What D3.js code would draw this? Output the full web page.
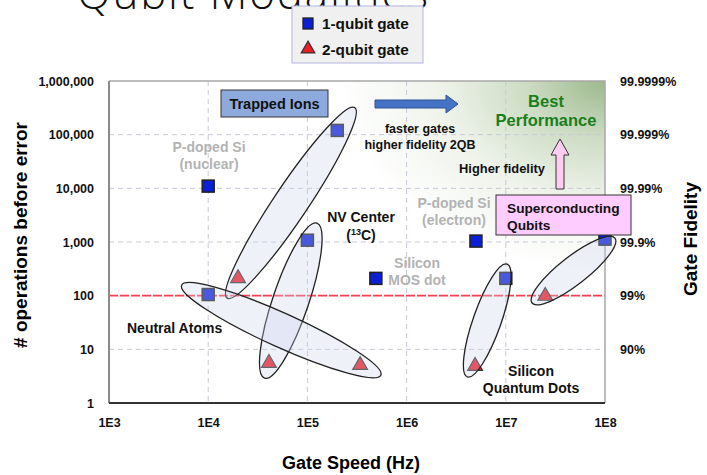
<!DOCTYPE html>
<html>
<head>
<meta charset="utf-8">
<script src="https://cdn.jsdelivr.net/npm/d3@7"></script>
<style>
  body { margin: 0; background: #fff; }
  text { font-family: "Liberation Sans", Arial, sans-serif; }
</style>
</head>
<body>
<div id="chart"></div>
<script>
// values
const xTicks = [1e3, 1e4, 1e5, 1e6, 1e7, 1e8]
const xTickLabels = ['1E3', '1E4', '1E5', '1E6', '1E7', '1E8']
const yTicks = [1, 10, 100, 1000, 10000, 100000, 1000000]
const fidTicks = [10, 100, 1000, 10000, 100000, 1000000]
const fidLabels = ['90%', '99%', '99.9%', '99.99%', '99.999%', '99.9999%']

// 1-qubit gates: speed (Hz), ops before error
const oneQubitSpeed = [1e4, 2e5, 1e5, 1e4, 4.9e5, 5e6, 1e7, 1e8]
const oneQubitOps = [11000, 120000, 1080, 105, 210, 1040, 210, 1130]
// 2-qubit gates
const twoQubitSpeed = [2e4, 4.1e4, 3.4e5, 4.9e6, 2.5e7]
const twoQubitOps = [220, 5.8, 5.3, 5.1, 103]

// ellipse groupings: two tips (speed, ops) and half width in px
const groupNames = ['Trapped Ions', 'NV Center', 'Neutral Atoms', 'Silicon QD', 'Superconducting']
const groupTipA = [[1.55e4, 90], [3.7e4, 2.9], [5.4e3, 157], [4.1e6, 3.05], [1.84e7, 73]]
const groupTipB = [[3.0e5, 320000], [1.25e5, 2240], [5.5e5, 3.3], [1.03e7, 387], [1.26e8, 1180]]
const groupHalfWidth = [17, 18, 17, 14, 14]

const width = 707
const height = 475
const pLeft = 109, pRight = 605, pTop = 81, pBottom = 403

const x = d3.scaleLog().domain([1e3, 1e8]).range([pLeft, pRight])
const y = d3.scaleLog().domain([1, 1e6]).range([pBottom, pTop])

const svg = d3.select('#chart').append('svg')
    .attr('width', width)
    .attr('height', height)

// green "best performance" corner
const defs = svg.append('defs')
const grad = defs.append('radialGradient')
    .attr('id', 'best')
    .attr('gradientUnits', 'userSpaceOnUse')
    .attr('cx', 0).attr('cy', 0).attr('r', 265)
    .attr('gradientTransform', `translate(${pRight},${pTop}) scale(1,0.72)`)
grad.append('stop').attr('offset', 0).attr('stop-color', '#9cb98b')
grad.append('stop').attr('offset', 0.3).attr('stop-color', '#cddcc4')
grad.append('stop').attr('offset', 0.62).attr('stop-color', '#eef3ea')
grad.append('stop').attr('offset', 1).attr('stop-color', '#ffffff')

// title, cut off at the top
svg.append('text')
    .attr('x', 77).attr('y', 9)
    .attr('textLength', 351)
    .style('font-family', '"Open Sans", sans-serif')
    .style('font-weight', 300)
    .attr('font-size', 44)
    .attr('fill', '#111')
    .text('Qubit Modalities')

// plot background
svg.append('rect')
    .attr('x', pLeft).attr('y', pTop)
    .attr('width', pRight - pLeft).attr('height', pBottom - pTop)
    .attr('fill', 'url(#best)')

// grid
const grid = svg.append('g')
    .attr('stroke', '#c8c8d8')
    .attr('stroke-dasharray', '5,4')
grid.selectAll('.gx').data(xTicks.slice(1, -1)).join('line')
    .attr('class', 'gx')
    .attr('x1', d => x(d)).attr('x2', d => x(d))
    .attr('y1', pTop).attr('y2', pBottom)
grid.selectAll('.gy').data(yTicks.slice(1, -1).filter(d => d != 100)).join('line')
    .attr('class', 'gy')
    .attr('x1', pLeft).attr('x2', pRight)
    .attr('y1', d => y(d)).attr('y2', d => y(d))

// 99% line
svg.append('line')
    .attr('x1', pLeft).attr('x2', pRight)
    .attr('y1', y(100)).attr('y2', y(100))
    .attr('stroke', '#ff3d4f')
    .attr('stroke-width', 1.6)
    .attr('stroke-dasharray', '9,2')

// frame
svg.append('path')
    .attr('d', `M${pLeft},${pTop}H${pRight}V${pBottom}`)
    .attr('fill', 'none').attr('stroke', '#a8a8a8').attr('stroke-width', 1.5)
svg.append('line')
    .attr('x1', pLeft).attr('x2', pLeft).attr('y1', pTop).attr('y2', pBottom)
    .attr('stroke', '#8a8a8a').attr('stroke-width', 2)
svg.append('line')
    .attr('x1', pLeft).attr('x2', pRight).attr('y1', pBottom).attr('y2', pBottom)
    .attr('stroke', '#333').attr('stroke-width', 2)

// axes
const axisLeft = svg.append('g')
    .attr('transform', `translate(${pLeft},0)`)
    .call(d3.axisLeft(y).tickValues(yTicks).tickFormat(d3.format(',')).tickSize(0).tickPadding(15))
const axisRight = svg.append('g')
    .attr('transform', `translate(${pRight},0)`)
    .call(d3.axisRight(y).tickValues(fidTicks).tickFormat((d, i) => fidLabels[i]).tickSize(0).tickPadding(15))
const axisBottom = svg.append('g')
    .attr('transform', `translate(0,${pBottom})`)
    .call(d3.axisBottom(x).tickValues(xTicks).tickFormat((d, i) => xTickLabels[i]).tickSize(0).tickPadding(15))
for (const a of [axisLeft, axisRight, axisBottom]) {
    a.select('.domain').remove()
    a.selectAll('text')
        .attr('font-size', 12.5)
        .attr('font-weight', 'bold')
        .attr('fill', '#111')
        .style('font-family', '"Liberation Sans", Arial, sans-serif')
}

// axis titles
svg.append('text')
    .attr('x', 351).attr('y', 469)
    .attr('text-anchor', 'middle')
    .attr('font-size', 18).attr('font-weight', 'bold')
    .text('Gate Speed (Hz)')
svg.append('text')
    .attr('transform', 'translate(27,235) rotate(-90)')
    .attr('text-anchor', 'middle')
    .attr('font-size', 19).attr('font-weight', 'bold')
    .text('# operations before error')
svg.append('text')
    .attr('transform', 'translate(697,239) rotate(-90)')
    .attr('text-anchor', 'middle')
    .attr('font-size', 19).attr('font-weight', 'bold')
    .text('Gate Fidelity')

// markers
const squares = svg.append('g')
squares.selectAll('rect')
    .data(oneQubitSpeed.map((s, i) => ({speed: s, ops: oneQubitOps[i]})))
    .join('rect')
    .attr('x', d => x(d.speed) - 6).attr('y', d => y(d.ops) - 6)
    .attr('width', 12).attr('height', 12)
    .attr('fill', '#0a1fd6')
    .attr('stroke', '#222').attr('stroke-width', 1.5)

const tri = d3.symbol().type(d3.symbolTriangle).size(95)
svg.append('g').selectAll('path')
    .data(twoQubitSpeed.map((s, i) => ({speed: s, ops: twoQubitOps[i]})))
    .join('path')
    .attr('d', tri)
    .attr('transform', d => `translate(${x(d.speed)},${y(d.ops) + 1})`)
    .attr('fill', '#ee1c25')
    .attr('stroke', '#333').attr('stroke-width', 1.2)

// group ellipses drawn over the points
svg.append('g').selectAll('ellipse')
    .data(groupNames.map((n, i) => {
        const ax = x(groupTipA[i][0]), ay = y(groupTipA[i][1])
        const bx = x(groupTipB[i][0]), by = y(groupTipB[i][1])
        return {
            cx: (ax + bx) / 2, cy: (ay + by) / 2,
            rx: Math.hypot(bx - ax, by - ay) / 2,
            ry: groupHalfWidth[i],
            angle: Math.atan2(by - ay, bx - ax) * 180 / Math.PI
        }
    }))
    .join('ellipse')
    .attr('transform', d => `translate(${d.cx},${d.cy}) rotate(${d.angle})`)
    .attr('rx', d => d.rx).attr('ry', d => d.ry)
    .attr('fill', '#ccd4ec').attr('fill-opacity', 0.32)
    .attr('stroke', '#222').attr('stroke-width', 1.3)

// labels
function label(lines, px, py, opts) {
    const t = svg.append('text')
        .attr('text-anchor', opts.anchor || 'middle')
        .attr('font-size', opts.size || 14)
        .attr('font-weight', 'bold')
        .attr('fill', opts.color || '#111')
    lines.forEach((l, i) => {
        t.append('tspan').attr('x', px).attr('y', py + i * (opts.lh || 17)).text(l)
    })
    return t
}

label(['P-doped Si', '(nuclear)'], 209, 152, {color: '#b3b3b3', size: 14})
label(['P-doped Si', '(electron)'], 454, 208, {color: '#b3b3b3', size: 14})
label(['Silicon', 'MOS dot'], 417, 268, {color: '#b3b3b3', size: 14})
label(['Neutral Atoms'], 127, 333, {anchor: 'start'})
label(['Silicon', 'Quantum Dots'], 531, 376, {})
label(['NV Center'], 361, 222, {})
const nv2 = svg.append('text')
    .attr('x', 361).attr('y', 240)
    .attr('text-anchor', 'middle')
    .attr('font-size', 14).attr('font-weight', 'bold').attr('fill', '#111')
nv2.append('tspan').text('(')
nv2.append('tspan').attr('font-size', 9).attr('dy', -5).text('13')
nv2.append('tspan').attr('dy', 5).text('C)')

// trapped ions box
svg.append('rect')
    .attr('x', 221).attr('y', 90).attr('width', 107).attr('height', 27)
    .attr('fill', '#8eaadc').attr('stroke', '#333').attr('stroke-width', 1)
label(['Trapped Ions'], 274.5, 109, {size: 14.5})

// blue arrow
svg.append('path')
    .attr('d', 'M375,100H446V95L458,104L446,113V108H375Z')
    .attr('fill', '#4472c4').attr('stroke', '#2f528f').attr('stroke-width', 1)
label(['faster gates', 'higher fidelity 2QB'], 420, 133, {size: 12.5, lh: 16})

label(['Best', 'Performance'], 546, 107, {size: 16.5, color: '#1a7f1a', lh: 19})

// pink arrow
svg.append('path')
    .attr('d', 'M556,189V155H551L560,139L569,155H564V189Z')
    .attr('fill', '#ffccf2').attr('stroke', '#333').attr('stroke-width', 1)
label(['Higher fidelity'], 502, 173, {size: 12.9})

// superconducting box
svg.append('rect')
    .attr('x', 496).attr('y', 195).attr('width', 135).attr('height', 40)
    .attr('fill', '#ffccff').attr('stroke', '#333').attr('stroke-width', 1)
label(['Superconducting', 'Qubits'], 507, 213, {anchor: 'start', size: 13.7, lh: 17})

// legend
const legend = svg.append('g')
legend.append('rect')
    .attr('x', 292).attr('y', 6).attr('width', 131).attr('height', 57)
    .attr('fill', '#f0f0f0').attr('stroke', '#b4b4e0').attr('stroke-width', 1)
legend.append('rect')
    .attr('x', 303).attr('y', 18).attr('width', 10).attr('height', 11)
    .attr('fill', '#0a1fd6').attr('stroke', '#222').attr('stroke-width', 1.3)
legend.append('path')
    .attr('d', d3.symbol().type(d3.symbolTriangle).size(80))
    .attr('transform', 'translate(308,49)')
    .attr('fill', '#ee1c25').attr('stroke', '#333').attr('stroke-width', 1.2)
label(['1-qubit gate'], 322, 29, {anchor: 'start', size: 15.3})
label(['2-qubit gate'], 322, 55, {anchor: 'start', size: 15.3})
</script>
</body>
</html>
